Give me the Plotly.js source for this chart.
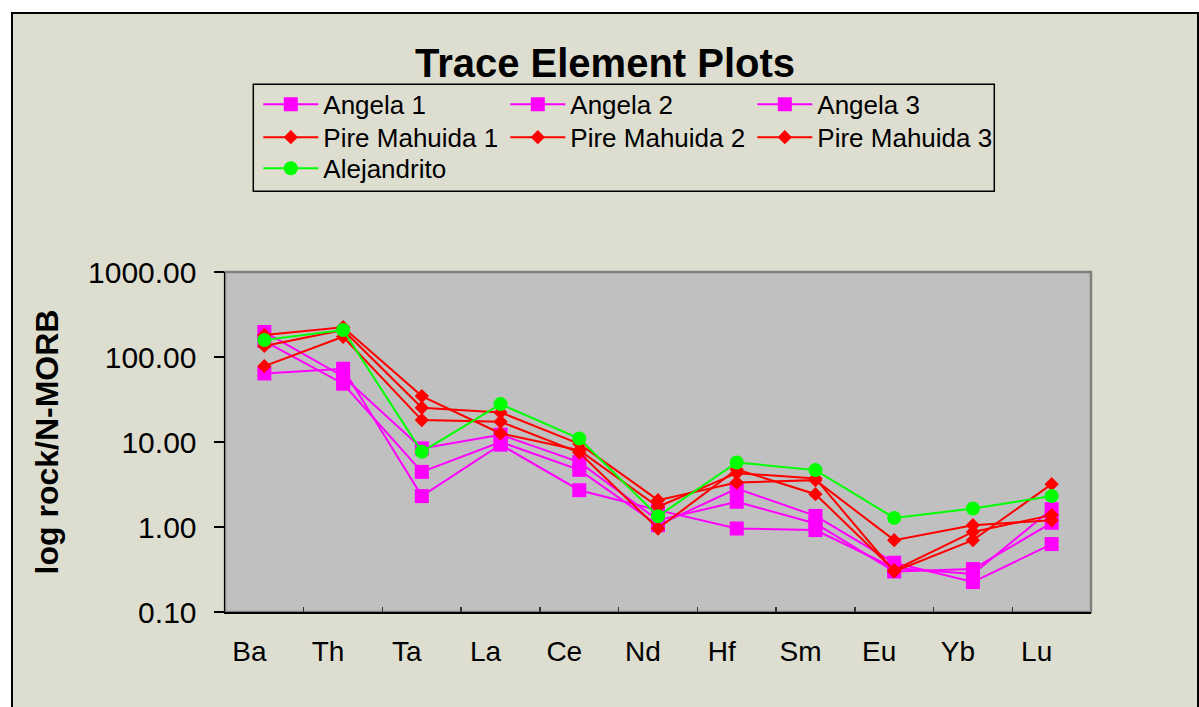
<!DOCTYPE html>
<html>
<head>
<meta charset="utf-8">
<script src="https://cdn.plot.ly/plotly-3.0.1.min.js"></script>
<style>
  html, body { margin:0; padding:0; background:#ffffff; overflow:hidden; }
  #frame { position:absolute; left:11px; top:12px; width:1184px; height:700px; border:2px solid #000; background:#DEDED0; }
  #chart { width:1184px; height:700px; }
</style>
</head>
<body>
<div id="frame"><div id="chart"></div></div>
<script>
// ---- data ----
const categories = ['Ba','Th','Ta','La','Ce','Nd','Hf','Sm','Eu','Yb','Lu'];
const seriesNames = ['Angela 1','Angela 2','Angela 3','Pire Mahuida 1','Pire Mahuida 2','Pire Mahuida 3','Alejandrito'];
const angela1 = [197, 59, 8.4, 12.2, 5.8, 1.20, 1.98, 1.10, 0.30, 0.32, 1.12];
const angela2 = [154, 48.5, 4.45, 10.0, 4.7, 1.05, 2.84, 1.35, 0.38, 0.225, 0.63];
const angela3 = [64, 72.8, 2.31, 9.3, 2.71, 1.58, 0.96, 0.92, 0.33, 0.28, 1.62];
const pire1 = [181, 224, 34.7, 12.6, 8.0, 1.73, 4.3, 3.73, 0.30, 0.70, 3.19];
const pire2 = [135, 208, 25.3, 22.3, 9.5, 2.07, 3.34, 3.56, 0.70, 1.05, 1.20];
const pire3 = [78, 173, 18.1, 17.3, 7.5, 0.96, 4.76, 2.43, 0.31, 0.875, 1.38];
const alejandrito = [158, 208, 7.67, 27.9, 11.0, 1.34, 5.75, 4.67, 1.28, 1.65, 2.31];
const yTickVals = [0.1, 1, 10, 100, 1000];
const yTickText = ['0.10', '1.00', '10.00', '100.00', '1000.00'];

// ---- layout geometry (px inside chart div) ----
const DW = 1184, DH = 700;
const L = 211.7, T = 257.7, PW = 866, PH = 340;
const px = x => (x - 13 - L) / PW;          // page x -> paper x
const py = y => 1 - (y - 14 - T) / PH;      // page y -> paper y

const FONT = 'Liberation Sans, Arial, Helvetica, sans-serif';
const MAG = '#FF00FF', RED = '#FF0000', GRN = '#00FF00';

function tr(vals, name, color, symbol, size, legend) {
  return {
    type: 'scatter', mode: 'lines+markers', x: categories, y: vals, name: name,
    line: { color: color, width: 2 },
    marker: { color: color, symbol: symbol, size: size, line: { width: 0 } },
    legend: legend
  };
}
const data = [
  tr(angela1, seriesNames[0], MAG, 'square', 14, 'legend'),
  tr(angela2, seriesNames[1], MAG, 'square', 14, 'legend'),
  tr(angela3, seriesNames[2], MAG, 'square', 14, 'legend'),
  tr(pire1, seriesNames[3], RED, 'diamond', 11, 'legend2'),
  tr(pire2, seriesNames[4], RED, 'diamond', 11, 'legend2'),
  tr(pire3, seriesNames[5], RED, 'diamond', 11, 'legend2'),
  tr(alejandrito, seriesNames[6], GRN, 'circle', 14, 'legend3')
];

function leg(yc) {
  return {
    orientation: 'h', x: px(258), xanchor: 'left', y: py(yc), yanchor: 'middle',
    entrywidth: 177, entrywidthmode: 'pixels', itemwidth: 55,
    bgcolor: 'rgba(0,0,0,0)', borderwidth: 0,
    font: { family: FONT, size: 26, color: '#000' }, traceorder: 'normal'
  };
}

const layout = {
  width: DW, height: DH,
  margin: { l: L, t: T, r: DW - L - PW, b: DH - T - PH, autoexpand: false },
  paper_bgcolor: '#DEDED0', plot_bgcolor: '#C0C0C0',
  font: { family: FONT, color: '#000' },
  title: { text: '<b>Trace Element Plots</b>', font: { family: FONT, size: 40, color: '#000' },
           x: 0.5, xanchor: 'center', xref: 'container', y: 1 - 49 / DH, yanchor: 'middle', yref: 'container' },
  showlegend: true,
  legend: leg(104), legend2: leg(137), legend3: leg(168),
  xaxis: {
    type: 'category', range: [-0.5, 10.5], showgrid: false, zeroline: false,
    showline: true, linecolor: '#000', linewidth: 1.5,
    ticks: 'inside', tickson: 'boundaries', ticklen: 5, tickcolor: '#333', tickwidth: 1.5,
    tickfont: { family: FONT, size: 28, color: '#000' },
    ticklabelshift: -15, ticklabelstandoff: 14, fixedrange: true
  },
  yaxis: {
    type: 'log', range: [-1, 3], showgrid: false, zeroline: false,
    showline: true, linecolor: '#000', linewidth: 1.5,
    tickvals: yTickVals, ticktext: yTickText,
    ticks: 'outside', ticklen: 10, tickcolor: '#000', tickwidth: 1.5,
    tickfont: { family: FONT, size: 30, color: '#000' }, ticklabelstandoff: 11,
    title: { text: '<b>log rock/N-MORB</b>', font: { family: FONT, size: 32, color: '#000' }, standoff: 20 },
    fixedrange: true
  },
  shapes: [
    { type: 'rect', xref: 'paper', yref: 'paper', x0: 0, x1: 1, y0: 0, y1: 1,
      line: { color: '#808080', width: 2.5 }, layer: 'below' },
    { type: 'rect', xref: 'paper', yref: 'paper', x0: px(253), x1: px(994), y0: py(191), y1: py(84),
      line: { color: '#000', width: 1.5 }, fillcolor: 'rgba(0,0,0,0)', layer: 'above' }
  ]
};

Plotly.newPlot('chart', data, layout, { displayModeBar: false, staticPlot: true });
</script>
</body>
</html>
